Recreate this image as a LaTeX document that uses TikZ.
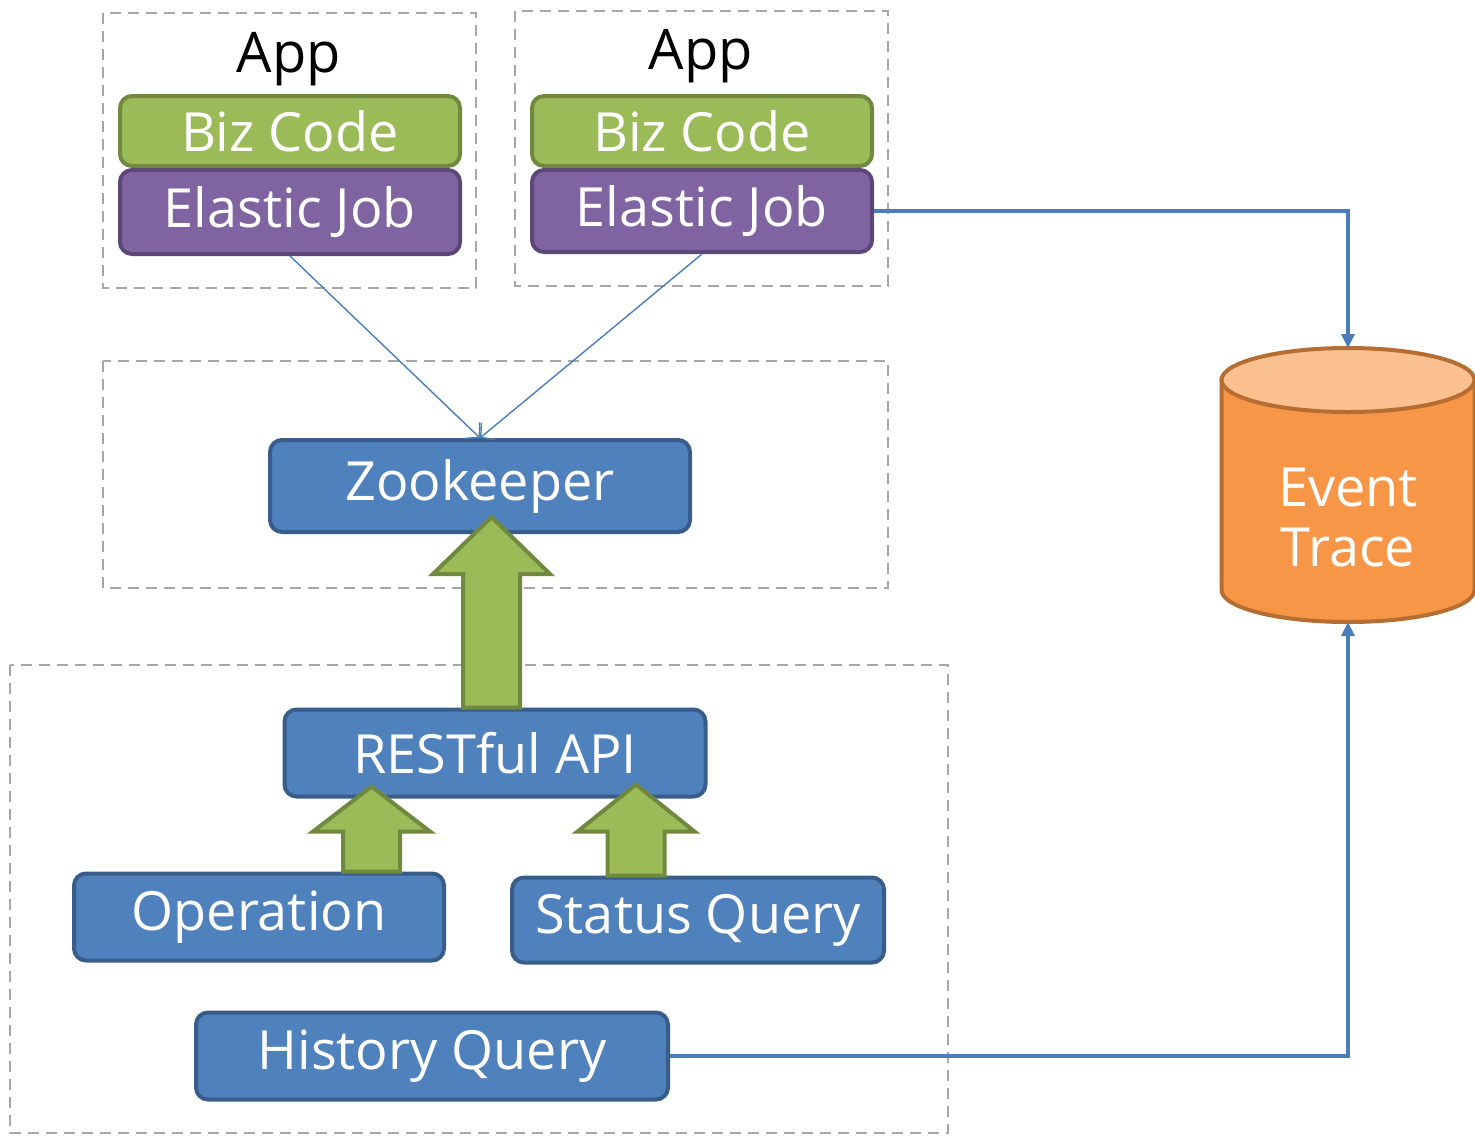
\documentclass[tikz,border=0pt]{standalone}
\usepackage{fontspec}
\setmainfont{Open Sans}
\usetikzlibrary{calc,arrows.meta}

\definecolor{bluefill}{HTML}{4F81BD}
\definecolor{blueline}{HTML}{385D8A}
\definecolor{greenfill}{HTML}{9BBB59}
\definecolor{greenline}{HTML}{71893F}
\definecolor{purplefill}{HTML}{8064A2}
\definecolor{purpleline}{HTML}{5C4776}
\definecolor{orangefill}{HTML}{F79646}
\definecolor{orangelight}{HTML}{FAC090}
\definecolor{orangeline}{HTML}{B66D31}
\definecolor{linkblue}{HTML}{4A7EBB}
\definecolor{dashgray}{HTML}{A6A6A6}

\newcommand\blockarrow[3]{%
\draw[greenarrow] let \p1=(#1), \p2=(#2) in
  (\x1-14.25pt,\y1) -- (\x1-14.25pt,\y2-#3) -- (\x1-29.25pt,\y2-#3) -- (\x1,\y2)
  -- (\x1+29.25pt,\y2-#3) -- (\x1+14.25pt,\y2-#3) -- (\x1+14.25pt,\y1) -- cycle;}

\begin{document}
\begin{tikzpicture}[x=0.5pt,y=-0.5pt,
  every node/.style={font=\fontsize{27}{30}\selectfont},
  box/.style={rounded corners=6pt,line width=2pt,text=white,inner sep=0pt},
  bluebox/.style={box,fill=bluefill,draw=blueline},
  group/.style={draw=dashgray,line width=1.3pt,dash pattern=on 5.5pt off 3.5pt},
  greenarrow/.style={fill=greenfill,draw=greenline,line width=2pt},
  drum/.style={draw=orangeline,line width=2pt},
  thinlink/.style={draw=linkblue,line width=0.7pt,-{Straight Barb[length=5pt,width=11pt]}},
  link/.style={draw=linkblue,line width=1.6pt,-{Triangle[length=7pt,width=6.5pt]}}]
\useasboundingbox (0,0) rectangle (1475,1135);

% groups
\draw[group] (103,13) rectangle (476,288);
\draw[group] (515,11) rectangle (888,286);
\draw[group] (103,361) rectangle (888,588);
\draw[group] (10,665) rectangle (948,1133);

% apps
\node (app1) at (289,59) {\fontsize{28}{30}\selectfont App};
\node (app2) at (701,56) {\fontsize{28}{30}\selectfont App};
\node[box,fill=greenfill,draw=greenline,minimum width=170pt,minimum height=35pt] (biz1) at (290,131) {Biz Code};
\node[box,fill=purplefill,draw=purpleline,minimum width=170pt,minimum height=42pt] (job1) at (290,212) {Elastic Job};
\node[box,fill=greenfill,draw=greenline,minimum width=170pt,minimum height=35pt] (biz2) at (702,131) {Biz Code};
\node[box,fill=purplefill,draw=purpleline,minimum width=170pt,minimum height=41pt] (job2) at (702,211) {Elastic Job};

% registry and console
\node[bluebox,minimum width=210pt,minimum height=46pt] (zk) at (480,486) {Zookeeper};
\node[bluebox,minimum width=210.5pt,minimum height=43.5pt] (rest) at (495,753) {RESTful API};
\node[bluebox,minimum width=185pt,minimum height=43.5pt] (op) at (259,917) {Operation};
\node[bluebox,minimum width=186pt,minimum height=42.5pt] (sq) at (698,920) {Status Query};
\node[bluebox,minimum width=236pt,minimum height=43.5pt] (hq) at (432,1056) {History Query};

% event trace drum
\filldraw[drum,fill=orangefill] (1221.5,380) -- (1221.5,590)
  arc[start angle=180,end angle=360,x radius=63.25pt,y radius=16pt] -- (1474.5,380) -- cycle;
\filldraw[drum,fill=orangelight] (1348,380) ellipse[x radius=63.25pt,y radius=16pt];
\coordinate (tracetop) at (1348,348);
\coordinate (tracebot) at (1348,622);
\node[text=white,align=center] (trace) at (1348,517) {Event\\Trace};

\draw[thinlink] (job1.south) -- (zk.north);
\draw[thinlink] (job2.south) -- (zk.north);
\draw[link] (job2.east) -| (tracetop);
\draw[link] (hq.east) -| (tracebot);

\blockarrow{$(rest.north)+(-3.5,0)$}{$(zk.south)+(0,-17)$}{28.5pt}
\blockarrow{$(op.north)+(112.5,0)$}{$(rest.south)+(0,-12)$}{22.5pt}
\blockarrow{$(sq.north)+(-62,0)$}{$(rest.south)+(0,-14)$}{23.5pt}
\end{tikzpicture}
\end{document}
